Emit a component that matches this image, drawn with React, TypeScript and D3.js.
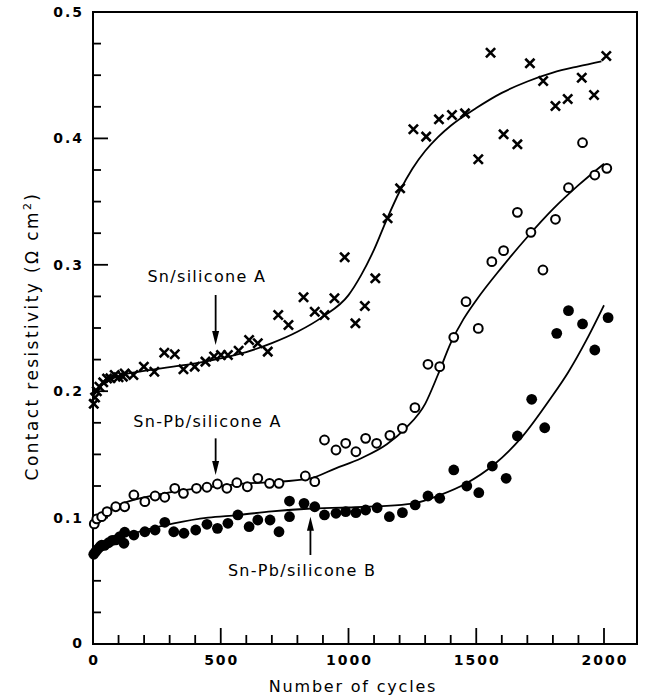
import React from "react";
import * as d3 from "d3";

// Sn/silicone A  (crosses)
const snCycles = [3, 8, 15, 25, 40, 55, 68, 85, 100, 117, 124, 158, 199, 240, 279, 320, 354, 398, 440, 474, 501, 528, 570, 611, 645, 684, 725, 765, 824, 868, 906, 945, 985, 1027, 1064, 1105, 1153, 1202, 1254, 1304, 1354, 1405, 1456, 1508, 1556, 1607, 1661, 1710, 1762, 1810, 1858, 1913, 1961, 2009];
const snValues = [0.19, 0.195, 0.2, 0.2035, 0.207, 0.21, 0.2102, 0.2128, 0.211, 0.2115, 0.214, 0.2128, 0.2194, 0.2154, 0.2305, 0.2292, 0.2173, 0.2194, 0.2234, 0.2275, 0.2286, 0.2286, 0.232, 0.2405, 0.2379, 0.2313, 0.2603, 0.2524, 0.2743, 0.2629, 0.2603, 0.2735, 0.306, 0.2537, 0.2674, 0.2893, 0.3368, 0.3605, 0.4072, 0.4014, 0.4151, 0.4185, 0.4198, 0.3835, 0.4678, 0.4032, 0.3953, 0.4594, 0.4454, 0.4256, 0.4312, 0.448, 0.4343, 0.4652];

// Sn-Pb/silicone A  (open circles)
const pbACycles = [5, 15, 34, 55, 89, 124, 160, 203, 243, 281, 320, 354, 405, 446, 487, 524, 563, 604, 645, 691, 728, 831, 868, 906, 951, 989, 1029, 1067, 1110, 1162, 1211, 1260, 1311, 1357, 1412, 1460, 1508, 1561, 1607, 1661, 1714, 1761, 1810, 1861, 1916, 1964, 2011];
const pbAValues = [0.095, 0.099, 0.1007, 0.1047, 0.1086, 0.1086, 0.1179, 0.1126, 0.1171, 0.1161, 0.1232, 0.1192, 0.1232, 0.124, 0.1266, 0.1232, 0.1276, 0.1244, 0.1311, 0.1271, 0.1271, 0.1329, 0.1284, 0.1614, 0.1535, 0.1588, 0.1521, 0.1627, 0.1588, 0.1651, 0.1706, 0.187, 0.2213, 0.2194, 0.2426, 0.2708, 0.2497, 0.3025, 0.3112, 0.3415, 0.3257, 0.2959, 0.336, 0.361, 0.3966, 0.371, 0.3763];

// Sn-Pb/silicone B  (filled circles)
const pbBCycles = [3, 10, 18, 28, 34, 45, 61, 75, 89, 105, 121, 124, 160, 203, 243, 281, 316, 356, 402, 446, 487, 528, 567, 611, 645, 693, 728, 769, 769, 826, 868, 906, 951, 989, 1029, 1067, 1112, 1160, 1211, 1261, 1311, 1357, 1412, 1463, 1510, 1563, 1617, 1661, 1717, 1768, 1815, 1861, 1916, 1964, 2016];
const pbBValues = [0.071, 0.073, 0.075, 0.077, 0.0783, 0.078, 0.0801, 0.082, 0.0823, 0.085, 0.0797, 0.0884, 0.0862, 0.0888, 0.0902, 0.0963, 0.0888, 0.0876, 0.0902, 0.0947, 0.0915, 0.0955, 0.1021, 0.0928, 0.0981, 0.0981, 0.0888, 0.1131, 0.1007, 0.1113, 0.1086, 0.1021, 0.1034, 0.1047, 0.1039, 0.106, 0.1078, 0.1007, 0.1039, 0.11, 0.1171, 0.1153, 0.1377, 0.125, 0.1197, 0.1408, 0.1311, 0.1646, 0.1936, 0.1711, 0.2458, 0.2637, 0.2532, 0.2326, 0.2582];

// fitted curves
const snFitCycles = [0, 50, 100, 200, 300, 400, 500, 600, 700, 800, 900, 1000, 1050, 1100, 1150, 1200, 1250, 1300, 1350, 1400, 1500, 1600, 1700, 1800, 1900, 1990];
const snFitValues = [0.198, 0.207, 0.212, 0.216, 0.219, 0.222, 0.226, 0.231, 0.238, 0.247, 0.259, 0.276, 0.292, 0.312, 0.336, 0.358, 0.376, 0.39, 0.401, 0.41, 0.424, 0.436, 0.445, 0.452, 0.457, 0.461];
const pbAFitCycles = [0, 50, 100, 200, 300, 400, 500, 600, 700, 850, 950, 1050, 1150, 1225, 1300, 1350, 1400, 1450, 1500, 1600, 1700, 1800, 1900, 2000];
const pbAFitValues = [0.1, 0.105, 0.11, 0.116, 0.12, 0.123, 0.125, 0.127, 0.128, 0.131, 0.139, 0.147, 0.158, 0.171, 0.19, 0.213, 0.238, 0.257, 0.272, 0.298, 0.322, 0.344, 0.363, 0.38];
const pbBFitCycles = [0, 50, 100, 200, 316, 450, 568, 700, 840, 1000, 1120, 1250, 1360, 1460, 1570, 1680, 1790, 1860, 1930, 2000];
const pbBFitValues = [0.072, 0.078, 0.083, 0.09, 0.0955, 0.1, 0.102, 0.105, 0.107, 0.108, 0.109, 0.111, 0.118, 0.127, 0.142, 0.164, 0.194, 0.215, 0.24, 0.268];

const xTicks = [500, 1000, 1500, 2000];
const yTicks = [0.1, 0.2, 0.3, 0.4, 0.5];
const yTickLabels = ["0.1", "0.2", "0.3", "0.4", "0.5"];

// annotations: label, text start cycle, text baseline value, arrow cycle, arrow from / to value
const annoLabels = ["Sn/silicone A", "Sn-Pb/silicone A", "Sn-Pb/silicone B"];
const annoTextCycles = [213, 158, 528];
const annoTextValues = [0.2866, 0.1719, 0.0538];
const annoArrowCycles = [480, 480, 851];
const annoArrowFrom = [0.2761, 0.1627, 0.0704];
const annoArrowTo = [0.2366, 0.1337, 0.1007];

const W = 645;
const H = 699;
const font = "'DejaVu Sans', sans-serif";

export default function App() {
  const x = d3.scaleLinear().domain([0, 2000]).range([93, 604]);
  const y = d3.scaleLinear().domain([0, 0.5]).range([644, 12]);
  const xRight = 637;

  const line = d3
    .line<[number, number]>()
    .x(d => x(d[0]))
    .y(d => y(d[1]))
    .curve(d3.curveMonotoneX);

  const fits = [
    d3.zip(snFitCycles, snFitValues),
    d3.zip(pbAFitCycles, pbAFitValues),
    d3.zip(pbBFitCycles, pbBFitValues)
  ] as [number, number][][];

  const minorX = d3.range(100, 2100, 100);
  const minorY = d3.range(0.025, 0.5, 0.025);

  return (
    <svg
      width={W}
      height={H}
      style={{ position: "absolute", left: 0, top: 0, background: "#fff" }}
    >
      {/* frame */}
      <rect x={x(0)} y={y(0.5)} width={xRight - x(0)} height={y(0) - y(0.5)} fill="none" stroke="#000" strokeWidth={2} />

      {/* x ticks */}
      {minorX.map(t => {
        const major = t % 500 === 0;
        return (
          <line key={"xt" + t} x1={x(t)} x2={x(t)} y1={y(0)} y2={y(0) - (major ? 16 : 9)} stroke="#000" strokeWidth={1.8} />
        );
      })}
      {/* y ticks */}
      {minorY.map(t => {
        const major = Math.abs(t * 10 - Math.round(t * 10)) < 1e-6;
        return (
          <line key={"yt" + t} x1={x(0)} x2={x(0) + (major ? 15 : 8)} y1={y(t)} y2={y(t)} stroke="#000" strokeWidth={1.8} />
        );
      })}

      {/* tick labels */}
      <g fontFamily={font} fontWeight="bold" fontSize={14} letterSpacing={2} fill="#000">
        <text x={x(0) + 1} y={y(0) + 21} textAnchor="middle">0</text>
        {xTicks.map(t => (
          <text key={"xl" + t} x={x(t) + 1} y={y(0) + 21} textAnchor="middle">{t}</text>
        ))}
        <text x={84} y={y(0) + 4} textAnchor="end">0</text>
        {yTicks.map((t, i) => (
          <text key={"yl" + t} x={84} y={y(t) + 5} textAnchor="end">{yTickLabels[i]}</text>
        ))}
      </g>

      {/* axis titles */}
      <text x={353} y={692} textAnchor="middle" fontFamily={font} fontSize={16} letterSpacing={1.8}>Number of cycles</text>
      <text transform="translate(38,336) rotate(-90)" textAnchor="middle" fontFamily={font} fontSize={17} letterSpacing={2.4}>
        Contact resistivity (Ω cm<tspan dy={-7} fontSize={11}>2</tspan><tspan dy={7}>)</tspan>
      </text>

      {/* fitted curves */}
      {fits.map((f, i) => (
        <path key={"fit" + i} d={line(f) || ""} fill="none" stroke="#000" strokeWidth={1.8} />
      ))}

      {/* crosses */}
      {snCycles.map((c, i) => {
        const cx = x(c), cy = y(snValues[i]), s = 4.6;
        return (
          <path key={"sn" + i} d={`M${cx - s},${cy - s}L${cx + s},${cy + s}M${cx - s},${cy + s}L${cx + s},${cy - s}`} stroke="#000" strokeWidth={2.6} fill="none" />
        );
      })}
      {/* open circles */}
      {pbACycles.map((c, i) => (
        <circle key={"pa" + i} cx={x(c)} cy={y(pbAValues[i])} r={4.4} fill="#fff" stroke="#000" strokeWidth={2} />
      ))}
      {/* filled circles */}
      {pbBCycles.map((c, i) => (
        <circle key={"pb" + i} cx={x(c)} cy={y(pbBValues[i])} r={5.4} fill="#000" />
      ))}

      {/* annotations */}
      {annoLabels.map((lab, i) => {
        const ax = x(annoArrowCycles[i]);
        const y1 = y(annoArrowFrom[i]);
        const y2 = y(annoArrowTo[i]);
        const dir = y2 > y1 ? 1 : -1;
        return (
          <g key={"an" + i}>
            <text x={x(annoTextCycles[i])} y={y(annoTextValues[i])} fontFamily={font} fontSize={16} letterSpacing={1.3}>{lab}</text>
            <line x1={ax} x2={ax} y1={y1} y2={y2 - dir * 12} stroke="#000" strokeWidth={1.8} />
            <path d={`M${ax - 3.5},${y2 - dir * 14}L${ax + 3.5},${y2 - dir * 14}L${ax},${y2}Z`} fill="#000" />
          </g>
        );
      })}
    </svg>
  );
}
